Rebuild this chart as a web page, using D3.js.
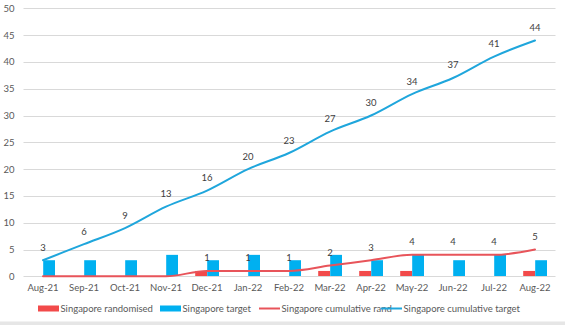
<!DOCTYPE html>
<html>
<head>
<meta charset="utf-8">
<script src="https://cdn.jsdelivr.net/npm/d3@7"></script>
<style>
  html, body { margin: 0; padding: 0; background: #fff; }
  svg { display: block; }
  text { font-family: Lato, "Liberation Sans", Arial, sans-serif; }
</style>
</head>
<body>
<svg id="chart" width="565" height="325"></svg>
<script>
const categories = ["Aug-21","Sep-21","Oct-21","Nov-21","Dec-21","Jan-22","Feb-22","Mar-22","Apr-22","May-22","Jun-22","Jul-22","Aug-22"];
const randomised = [0,0,0,0,1,0,0,1,1,1,0,0,1];
const target = [3,3,3,4,3,4,3,4,3,4,3,4,3];
const cumulativeRand = [0,0,0,0,1,1,1,2,3,4,4,4,5];
const cumulativeTarget = [3,6,9,13,16,20,23,27,30,34,37,41,44];
const yTicks = [0,5,10,15,20,25,30,35,40,45,50];
const seriesNames = ["Singapore randomised","Singapore target","Singapore cumulative rand","Singapore cumulative target"];

const C = {
  redBar: "#F24A4A",
  blueBar: "#00B0F0",
  redLine: "#E8545A",
  blueLine: "#1FA6DC",
  grid: "#D9D9D9",
  text: "#595959",
  label: "#404040"
};

const svg = d3.select("#chart");
const plot = {left: 22.5, right: 555.5, top: 8.3, bottom: 276.3};

const x = d3.scaleBand().domain(categories).range([plot.left, plot.right]).paddingInner(0).paddingOuter(0);
const y = d3.scaleLinear().domain([0, 50]).range([plot.bottom, plot.top]);
const barW = 11.8;
const cx = c => x(c) + x.bandwidth() / 2;

// gridlines
svg.append("g").selectAll("line").data(yTicks.filter(d => d > 0)).join("line")
  .attr("x1", plot.left + 1).attr("x2", plot.right)
  .attr("y1", d => Math.round(y(d)) + 0.5).attr("y2", d => Math.round(y(d)) + 0.5)
  .attr("stroke", C.grid).attr("stroke-width", 1);

// y axis labels
const yAxis = d3.axisLeft(y).tickValues(yTicks).tickSize(0).tickPadding(0);
const yg = svg.append("g").attr("transform", "translate(14.5,0)").call(yAxis);
yg.select(".domain").remove();
yg.selectAll("text").attr("fill", C.text).attr("font-size", "9.5px")
  .attr("font-family", "Lato, 'Liberation Sans', Arial, sans-serif");

// bars
const bars = svg.append("g");
bars.selectAll("rect.r").data(categories).join("rect").attr("class", "r")
  .attr("x", c => cx(c) - barW)
  .attr("width", barW)
  .attr("y", (c, i) => y(randomised[i]))
  .attr("height", (c, i) => y(0) - y(randomised[i]))
  .attr("fill", C.redBar);
bars.selectAll("rect.b").data(categories).join("rect").attr("class", "b")
  .attr("x", c => cx(c) + 0.2)
  .attr("width", barW)
  .attr("y", (c, i) => y(target[i]))
  .attr("height", (c, i) => y(0) - y(target[i]))
  .attr("fill", C.blueBar);

// x axis
const xAxis = d3.axisBottom(x).tickSize(0).tickPadding(8);
const xg = svg.append("g").attr("transform", `translate(0,${Math.round(y(0)) + 0.5})`).call(xAxis);
xg.select(".domain").attr("stroke", C.grid).attr("d", `M${plot.left + 1},0H${plot.right}`);
xg.selectAll("text").attr("fill", C.text).attr("font-size", "9.5px")
  .attr("font-family", "Lato, 'Liberation Sans', Arial, sans-serif");

// lines
const line = d3.line().x(d => cx(d.c)).y(d => y(d.v)).curve(d3.curveMonotoneX);
const redData = categories.map((c, i) => ({c, v: cumulativeRand[i]}));
const blueData = categories.map((c, i) => ({c, v: cumulativeTarget[i]}));
svg.append("path").datum(redData).attr("d", line).attr("fill", "none")
  .attr("stroke", C.redLine).attr("stroke-width", 2).attr("stroke-linecap", "round");
svg.append("path").datum(blueData).attr("d", line).attr("fill", "none")
  .attr("stroke", C.blueLine).attr("stroke-width", 2).attr("stroke-linecap", "round");

// data labels
const labels = svg.append("g").attr("font-size", "9.5px").attr("fill", C.label).attr("text-anchor", "middle");
labels.selectAll("text.t").data(blueData).join("text").attr("class", "t")
  .attr("x", d => cx(d.c)).attr("y", d => y(d.v) - 9.5).text(d => d.v);
labels.selectAll("text.r").data(redData.filter(d => d.v > 0)).join("text").attr("class", "r")
  .attr("x", d => cx(d.c)).attr("y", d => y(d.v) - 9.5).text(d => d.v);

// legend
const legend = svg.append("g").attr("font-size", "9.5px").attr("fill", C.text);
const legendItems = [
  {name: seriesNames[0], type: "rect", color: C.redBar, x: 38},
  {name: seriesNames[1], type: "rect", color: C.blueBar, x: 160},
  {name: seriesNames[2], type: "line", color: C.redLine, x: 259},
  {name: seriesNames[3], type: "line", color: C.blueLine, x: 381}
];
const ly = 308.5;
legendItems.forEach(it => {
  if (it.type === "rect") {
    legend.append("rect").attr("x", it.x).attr("y", ly - 3).attr("width", 21).attr("height", 6).attr("fill", it.color);
  } else {
    legend.append("line").attr("x1", it.x).attr("x2", it.x + 21).attr("y1", ly).attr("y2", ly)
      .attr("stroke", it.color).attr("stroke-width", 2);
  }
  legend.append("text").attr("x", it.x + 22.5).attr("y", ly + 3.3).text(it.name);
});

// bottom border band
svg.append("rect").attr("x", 0).attr("y", 321.5).attr("width", 565).attr("height", 3.5).attr("fill", "#E6E6E6");
</script>
</body>
</html>
